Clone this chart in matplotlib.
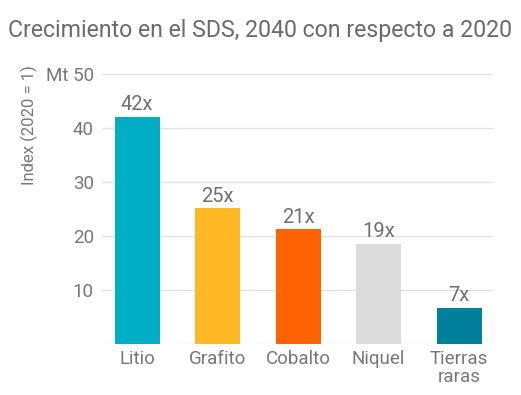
import matplotlib.pyplot as plt

plt.rcParams['font.family'] = ['Roboto', 'DejaVu Sans']

categories = ['Litio', 'Grafito', 'Cobalto', 'Niquel', 'Tierras\nraras']
values = [42.0, 25.1, 21.2, 18.5, 6.7]
labels = ['42x', '25x', '21x', '19x', '7x']
colors = ['#00AEC6', '#FEB823', '#FF6200', '#DCDCDC', '#00809A']
yticks = [0, 10, 20, 30, 40, 50]
ytick_labels = ['', '10', '20', '30', '40', 'Mt 50']

text_color = '#777777'

fig = plt.figure(figsize=(5.21, 3.95), dpi=100)
ax = fig.add_axes([0.196, 0.129, 0.75, 0.684])

x = range(len(categories))
bars = ax.bar(x, values, width=0.56, color=colors, zorder=3)
for b, lab in zip(bars, labels):
    ax.text(b.get_x() + b.get_width() / 2, b.get_height() + 0.5, lab,
            ha='center', va='bottom', fontsize=14.5, color='#6f6f6f')

ax.set_ylim(0, 50)
ax.set_xlim(-0.435, 4.42)
ax.set_yticks(yticks)
ax.set_yticklabels(ytick_labels)
ax.set_xticks(list(x))
ax.set_xticklabels(categories, linespacing=1.0)
ax.grid(axis='y', color='#e3e3e3', linewidth=1, zorder=0)
ax.tick_params(axis='both', length=0, labelsize=13.5, labelcolor=text_color)
ax.tick_params(axis='y', pad=6)
ax.tick_params(axis='x', pad=4)
for s in ax.spines.values():
    s.set_visible(False)

ax.set_ylabel('Index (2020 = 1)', fontsize=12, color=text_color)
ax.yaxis.set_label_coords(-0.165, 0.81)

fig.text(0.5, 0.924, 'Crecimiento en el SDS, 2040 con respecto a 2020',
         ha='center', va='center', fontsize=16.7, color='#6a6a6a')

fig.savefig('out.png', dpi=100)
